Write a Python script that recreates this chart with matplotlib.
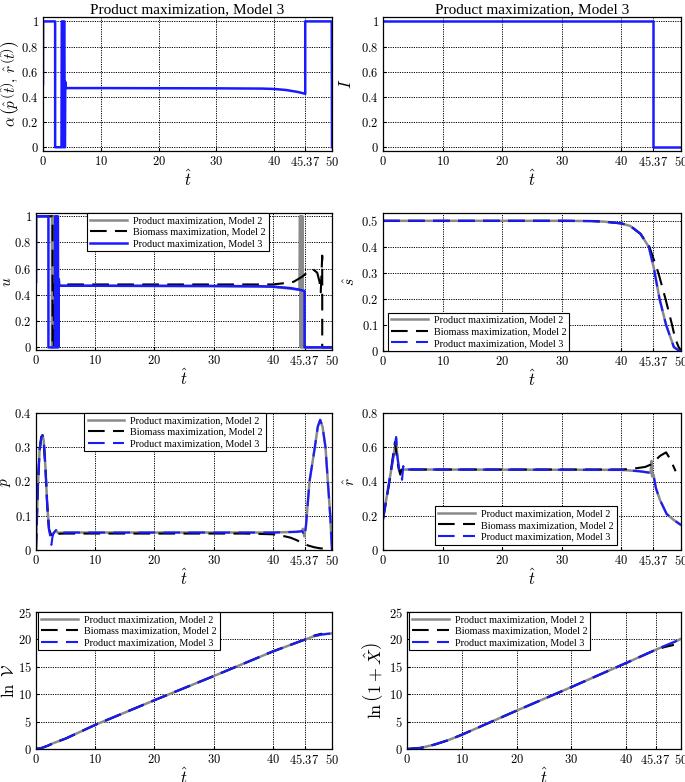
import matplotlib
matplotlib.use("Agg")
import matplotlib.pyplot as plt

plt.rcParams['font.family'] = ['Liberation Serif', 'DejaVu Serif']
plt.rcParams['mathtext.fontset'] = 'cm'

# ---- data ----
title_text = 'Product maximization, Model 3'
legend_names = ['Product maximization, Model 2', 'Biomass maximization, Model 2',
                'Product maximization, Model 3']
xticks = [0, 10, 20, 30, 40, 45.37, 50]
xticklabels = ['0', '10', '20', '30', '40', '45.37', '50']

# alpha(p,r), model 3
t_alpha = [0, 0.02, 2.1, 2.1, 3.2, 3.25, 3.35, 3.4, 3.55, 3.6, 3.7, 3.75, 3.8, 3.85, 3.95,
           10, 30, 38, 40, 42, 44, 45.37, 45.37, 49.95, 50]
alpha_m3 = [0.5, 1, 1, 0, 0, 1, 1, 0, 0, 1, 1, 0, 0, 0.52, 0.47,
            0.47, 0.468, 0.466, 0.463, 0.455, 0.44, 0.425, 1, 1, 0]

# I, model 3
t_I = [0, 45.37, 45.37, 50]
I_m3 = [1, 1, 0, 0]

# u
t_u_prod2 = [0, 0.02, 2.7, 2.7, 2.9, 2.95, 3.05, 3.1, 3.15, 10, 30, 40, 44.5,
             44.6, 44.7, 44.8, 44.9, 45.0, 45.1, 50]
u_prod2 = [0.5, 1, 1, 0, 0, 1, 1, 0.5, 0.47, 0.47, 0.468, 0.463, 0.44,
           1, 0, 1, 0, 1, 0, 0]
t_u_bio2 = [0, 2.8, 2.8, 3.0, 3.05, 10, 30, 40, 42, 43.5, 45, 46, 46.8, 47.5, 47.9,
            48.1, 48.35, 48.35, 50]
u_bio2 = [1, 1, 0, 0, 0.48, 0.48, 0.48, 0.48, 0.49, 0.5, 0.54, 0.58, 0.595, 0.57, 0.5,
          0.42, 0.7, 0, 0]
t_u_prod3 = [0, 0.02, 2.1, 2.1, 3.2, 3.25, 3.35, 3.4, 3.55, 3.6, 3.7, 3.75, 3.8, 3.85,
             3.95, 10, 30, 38, 40, 43, 44.5, 45.37, 45.37, 50]
u_prod3 = [0.5, 1, 1, 0, 0, 1, 1, 0, 0, 1, 1, 0, 0, 0.52,
           0.47, 0.47, 0.468, 0.466, 0.463, 0.452, 0.44, 0.43, 0, 0]

# s hat
t_s = [0, 30, 35, 37, 40, 41.5, 43.2, 44.6, 45.4, 46.4, 47.5, 48.8, 49.5, 50]
s_prod2 = [0.5, 0.5, 0.499, 0.497, 0.49, 0.48, 0.45, 0.4, 0.323, 0.2, 0.1, 0.015, 0.004, 0.0]
s_prod3 = [0.5, 0.5, 0.499, 0.497, 0.49, 0.48, 0.45, 0.4, 0.323, 0.2, 0.1, 0.015, 0.004, 0.0]
t_s_bio = [0, 30, 35, 37, 40, 41.5, 43.2, 44.7, 46.2, 47.4, 48.5, 49.0, 49.6, 50]
s_bio2 = [0.5, 0.5, 0.499, 0.497, 0.49, 0.48, 0.45, 0.4, 0.3, 0.2, 0.1, 0.05, 0.015, 0.003]

# p hat
t_p_prod2 = [0, 0.3, 0.6, 0.9, 1.1, 1.3, 1.6, 1.9, 2.2, 2.5, 3.0, 3.4, 3.7, 5, 40, 44,
             44.9, 45.1, 45.3, 45.6, 46.2, 47.1, 47.6, 48.0, 48.4, 48.9, 49.3, 49.7, 50]
p_prod2 = [0, 0.18, 0.29, 0.33, 0.335, 0.32, 0.24, 0.13, 0.06, 0.045, 0.05, 0.058, 0.05,
           0.051, 0.051, 0.053, 0.055, 0.062, 0.04, 0.07, 0.2, 0.3, 0.36, 0.38, 0.36,
           0.3, 0.2, 0.1, 0]
t_p_bio2 = [0, 0.3, 0.6, 0.9, 1.1, 1.3, 1.6, 1.9, 2.2, 2.5, 2.7, 3.0, 5, 35, 40, 42, 43,
            44, 45, 46, 47, 48, 49, 50]
p_bio2 = [0, 0.18, 0.29, 0.33, 0.335, 0.32, 0.24, 0.13, 0.06, 0.045, 0.04, 0.047, 0.048,
          0.048, 0.046, 0.04, 0.036, 0.029, 0.02, 0.013, 0.008, 0.005, 0.003, 0.002]
t_p_prod3 = [0, 0.3, 0.6, 0.9, 1.1, 1.3, 1.6, 1.9, 2.2, 2.4, 2.6, 2.8, 3.0, 3.4, 3.7, 5,
             40, 44, 45.0, 45.37, 45.6, 46.2, 47.1, 47.6, 48.0, 48.4, 48.9, 49.3, 49.7, 50]
p_prod3 = [0, 0.18, 0.29, 0.33, 0.335, 0.32, 0.24, 0.13, 0.06, 0.04, 0.015, 0.04, 0.05,
           0.058, 0.05, 0.051, 0.051, 0.053, 0.055, 0.04, 0.07, 0.2, 0.3, 0.36, 0.38,
           0.36, 0.3, 0.2, 0.1, 0]

# r hat
t_r_prod2 = [0, 1, 2.0, 2.2, 2.4, 2.7, 3.0, 3.3, 3.6, 3.8, 40, 43, 44.9, 45.05, 45.15,
             45.37, 45.8, 46.5, 47.6, 48.8, 50]
r_prod2 = [0.18, 0.39, 0.6, 0.65, 0.55, 0.47, 0.46, 0.47, 0.47, 0.47, 0.468, 0.46, 0.45,
           0.52, 0.43, 0.44, 0.36, 0.29, 0.21, 0.175, 0.146]
t_r_bio2 = [0, 1, 1.8, 2.0, 2.3, 2.6, 2.9, 3.1, 40, 42, 44, 45, 46.5, 47.5, 48.2, 49.1]
r_bio2 = [0.18, 0.38, 0.58, 0.63, 0.55, 0.48, 0.44, 0.47, 0.47, 0.475, 0.485, 0.5, 0.55,
          0.57, 0.53, 0.46]
t_r_prod3 = [0, 1, 2.0, 2.2, 2.4, 2.7, 3.0, 3.2, 3.4, 3.6, 3.8, 40, 43, 45.2, 45.37,
             45.8, 46.5, 47.6, 48.8, 50]
r_prod3 = [0.18, 0.39, 0.6, 0.66, 0.55, 0.47, 0.44, 0.41, 0.49, 0.46, 0.47, 0.468, 0.46,
           0.45, 0.44, 0.36, 0.29, 0.21, 0.175, 0.146]

# ln V
t_V = [0, 1, 2, 3, 5, 10, 20, 30, 40, 45.37, 47, 48.3, 50]
lnV_prod2 = [0, 0.2, 0.6, 1.1, 1.9, 4.4, 8.9, 13.3, 17.8, 19.95, 20.6, 20.9, 21.1]
lnV_prod3 = [0, 0.2, 0.6, 1.1, 1.9, 4.4, 8.9, 13.3, 17.8, 19.95, 20.6, 20.9, 21.1]
t_V_bio = [0, 1, 2, 3, 5, 10, 20, 30, 40, 45.37, 47, 48.3]
lnV_bio2 = [0, 0.2, 0.6, 1.1, 1.9, 4.4, 8.9, 13.3, 17.8, 19.95, 20.7, 21.05]

# ln(1+X)
t_X = [0, 2.5, 5, 7.5, 10, 12.5, 15, 17.5, 20, 25, 30, 35, 40, 45.37, 47, 48.7, 50]
lnX_prod2 = [0, 0.2, 0.8, 1.6, 2.6, 3.7, 4.8, 5.9, 7.0, 9.15, 11.3, 13.5, 15.7, 18.1,
             18.8, 19.5, 20.1]
lnX_prod3 = [0, 0.2, 0.8, 1.6, 2.6, 3.7, 4.8, 5.9, 7.0, 9.15, 11.3, 13.5, 15.7, 18.1,
             18.8, 19.5, 20.1]
t_X_bio = [0, 2.5, 5, 7.5, 10, 12.5, 15, 17.5, 20, 25, 30, 35, 40, 45.37, 47, 48.7]
lnX_bio2 = [0, 0.2, 0.8, 1.6, 2.6, 3.7, 4.8, 5.9, 7.0, 9.15, 11.3, 13.5, 15.7, 18.1,
            18.6, 19.0]

# ---- figure ----
W, H = 685, 782
fig = plt.figure(figsize=(W / 100, H / 100), dpi=100)

GRAY = '#8a8a8a'
BLUE = '#1a1aff'


def box(x0, x1, top, bottom):
    return fig.add_axes([x0 / W, 1 - bottom / H, (x1 - x0) / W, (bottom - top) / H])


def style(ax, ylim, yticks, ylabel, ylab_size, ylab_x):
    ax.set_xlim(0, 50)
    ax.set_ylim(*ylim)
    ax.set_xticks(xticks)
    ax.set_xticklabels(['$%s$' % s for s in xticklabels])
    ax.set_yticks(yticks)
    ax.set_yticklabels(['$%g$' % v for v in yticks])
    ax.grid(True, color='black', linestyle=(0, (1.2, 1.2)), linewidth=0.7)
    ax.tick_params(labelsize=9, direction='in', length=2, pad=3)
    ax.set_xlabel(r'$\hat{t}$', fontsize=12, labelpad=0)
    ax.set_ylabel(ylabel, fontsize=ylab_size)
    ax.yaxis.set_label_coords(ylab_x, 0.5)
    for s in ax.spines.values():
        s.set_linewidth(0.9)


def three(ax, t2, y2, tb, yb, t3, y3, solid3=False):
    ax.plot(t2, y2, color=GRAY, lw=1.8, label=legend_names[0])
    ax.plot(tb, yb, color='black', lw=1.5, dashes=(8, 4), label=legend_names[1])
    if solid3:
        ax.plot(t3, y3, color=BLUE, lw=1.8, label=legend_names[2])
    else:
        ax.plot(t3, y3, color=BLUE, lw=1.5, dashes=(8, 4), label=legend_names[2])


def legend(ax, **kw):
    lg = ax.legend(prop={'family': 'Liberation Serif', 'size': 7.3}, fancybox=False,
                   framealpha=1, edgecolor='black', handlelength=3.6, handletextpad=0.6,
                   borderpad=0.3, labelspacing=0.25, borderaxespad=0.0, **kw)
    lg.get_frame().set_linewidth(0.8)


# row 1
ax = box(43, 332, 17, 151)
ax.plot(t_alpha, alpha_m3, color=BLUE, lw=1.8)
style(ax, (-0.03, 1.035), [0, 0.2, 0.4, 0.6, 0.8, 1],
      r'$\alpha\,\left(\hat{p}\,\left(\hat{t}\right),\,\hat{r}\,\left(\hat{t}\right)\right)$',
      11, -0.074)
ax.set_title(title_text, fontsize=11, pad=3)

ax = box(383, 681, 17, 151)
ax.plot(t_I, I_m3, color=BLUE, lw=1.8)
style(ax, (-0.03, 1.035), [0, 0.2, 0.4, 0.6, 0.8, 1], r'$I$', 12, -0.093)
ax.set_title(title_text, fontsize=11, pad=3)

# row 2
ax = box(36, 332, 213, 350)
three(ax, t_u_prod2, u_prod2, t_u_bio2, u_bio2, t_u_prod3, u_prod3, solid3=True)
style(ax, (-0.02, 1.025), [0, 0.2, 0.4, 0.6, 0.8, 1], r'$u$', 11, -0.076)
legend(ax, loc='upper center', bbox_to_anchor=(0.48, 1.0))

ax = box(383, 681, 213, 351)
three(ax, t_s, s_prod2, t_s_bio, s_bio2, t_s, s_prod3)
style(ax, (0, 0.53), [0, 0.1, 0.2, 0.3, 0.4, 0.5], r'$\hat{s}$', 11, -0.084)
legend(ax, loc='lower left', bbox_to_anchor=(0.017, 0.0))

# row 3
ax = box(36, 332, 413, 550)
three(ax, t_p_prod2, p_prod2, t_p_bio2, p_bio2, t_p_prod3, p_prod3)
style(ax, (0, 0.4), [0, 0.1, 0.2, 0.3, 0.4], r'$\hat{p}$', 11, -0.076)
legend(ax, loc='upper center', bbox_to_anchor=(0.47, 1.0))

ax = box(383, 681, 413, 550)
three(ax, t_r_prod2, r_prod2, t_r_bio2, r_bio2, t_r_prod3, r_prod3)
style(ax, (0, 0.8), [0, 0.2, 0.4, 0.6, 0.8], r'$\hat{r}$', 11, -0.084)
legend(ax, loc='lower center', bbox_to_anchor=(0.48, 0.04))

# row 4
ax = box(36, 332, 612, 749)
three(ax, t_V, lnV_prod2, t_V_bio, lnV_bio2, t_V, lnV_prod3)
style(ax, (0, 25), [0, 5, 10, 15, 20, 25], r'$\ln\ \mathcal{V}$', 12, -0.062)
legend(ax, loc='upper left', bbox_to_anchor=(0.008, 1.0))

ax = box(407, 681, 612, 749)
three(ax, t_X, lnX_prod2, t_X_bio, lnX_bio2, t_X, lnX_prod3)
style(ax, (0, 25), [0, 5, 10, 15, 20, 25], r'$\ln\left(1+\hat{X}\right)$', 13, -0.08)
legend(ax, loc='upper left', bbox_to_anchor=(0.008, 1.0))

fig.savefig('out.png', dpi=100)
